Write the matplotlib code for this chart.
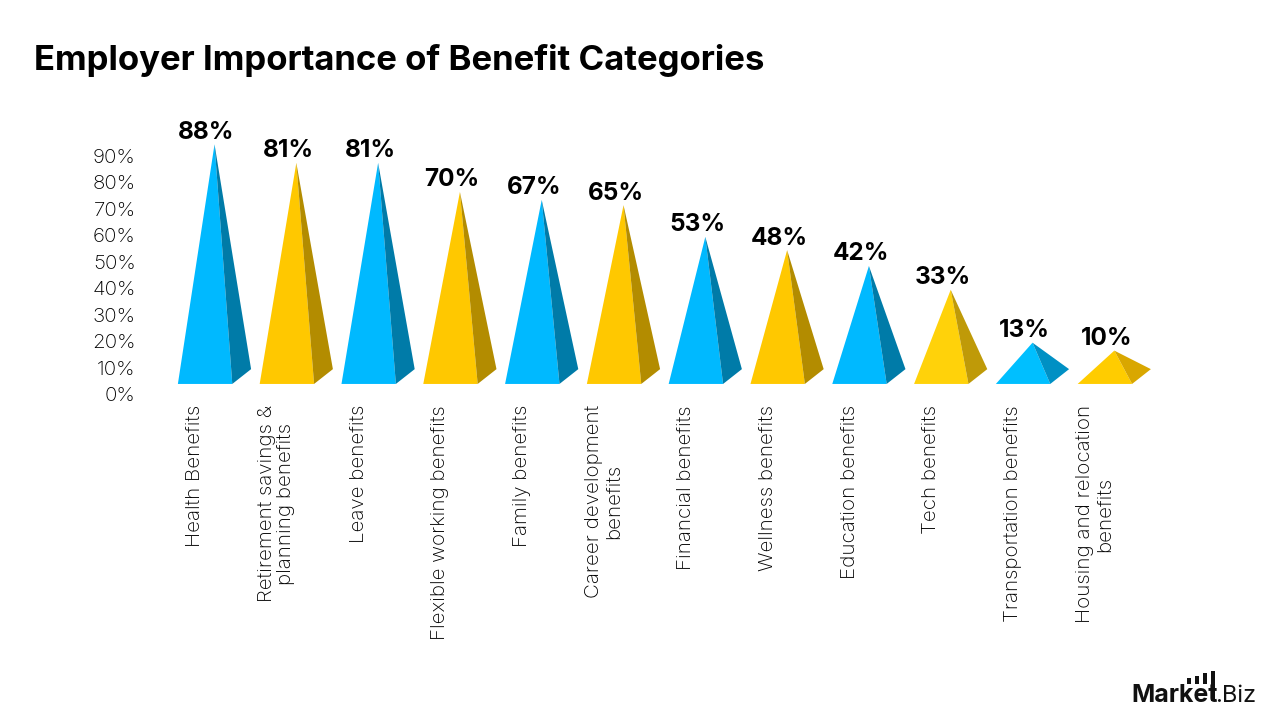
import matplotlib
matplotlib.use("Agg")
import matplotlib.pyplot as plt
from matplotlib.patches import Rectangle

plt.rcParams["font.family"] = ["Inter", "DejaVu Sans"]

categories = ["Health Benefits", "Retirement savings &\nplanning benefits", "Leave benefits",
              "Flexible working benefits", "Family benefits", "Career development\nbenefits",
              "Financial benefits", "Wellness benefits", "Education benefits", "Tech benefits",
              "Transportation benefits", "Housing and relocation\nbenefits"]
values = [88, 81, 81, 70, 67, 65, 53, 48, 42, 33, 13, 10]
front_colors = ["#00B9FF", "#FFC800", "#00B9FF", "#FFC800", "#00B9FF", "#FFC800",
                "#00B9FF", "#FFC800", "#00B9FF", "#FFD20A", "#00BFFF", "#FFCC00"]
side_colors = ["#007BA8", "#B38C00", "#007BA8", "#B38C00", "#007BA8", "#B38C00",
               "#007BA8", "#B38C00", "#007BA8", "#BF9A08", "#0090C4", "#D9A700"]
yticks = [0, 10, 20, 30, 40, 50, 60, 70, 80, 90]

W, H = 1280, 720

# pyramid footprint relative to the category position, 3d look
left, right, back, peak = -0.209, 0.456, 0.686, 0.239
base_y, back_y, floor = 3.8, 9.4, 6.4


def px_rect(x0, y0, x1, y1):
    return [x0 / W, 1 - y1 / H, (x1 - x0) / W, (y1 - y0) / H]


fig = plt.figure(figsize=(12.8, 7.2), dpi=100)
ax = fig.add_axes(px_rect(145.9, 129.5, 1160.2, 394))
ax.set_xlim(-0.6, 11.8)
ax.set_ylim(0, 100)

for i, v in enumerate(values):
    top = v + floor
    ax.fill([i + left, i + right, i + peak], [base_y, base_y, top], color=front_colors[i], lw=0)
    ax.fill([i + right, i + back, i + peak], [base_y, back_y, top], color=side_colors[i], lw=0)
    ax.annotate(f"{v}%", (i + 0.142, top), xytext=(0, 4), textcoords="offset points",
                ha="center", va="baseline", fontsize=17.5, fontweight="bold",
                color="black", annotation_clip=False)

for s in ax.spines.values():
    s.set_visible(False)
ax.set_yticks(yticks)
ax.set_yticklabels([f"{t}%" for t in yticks], fontsize=14.8, color="black", fontweight="light")
ax.set_xticks(range(len(categories)))
ax.set_xticklabels(categories, rotation=90, fontsize=14.8, color="black", fontweight="light",
                   ha="center", va="top", multialignment="center", linespacing=1.1)
ax.tick_params(axis="y", length=0, pad=7.4)
ax.tick_params(axis="x", length=0, pad=8)

fig.text(34 / W, 1 - 70 / H, "Employer Importance of Benefit Categories",
         fontsize=25, fontweight="bold", color="black", ha="left", va="baseline")

# logo in the corner
fig.text(1131 / W, 1 - 702 / H, "Market", fontsize=18, fontweight="bold", color="#111111",
         ha="left", va="baseline")
fig.text(1256 / W, 1 - 702 / H, ".Biz", fontsize=17, color="#111111", ha="right", va="baseline")
for x0, y0, y1 in [(1187, 678, 684), (1195, 676, 684), (1203, 673, 684), (1211, 671, 701)]:
    r = px_rect(x0, y0, x0 + 4, y1)
    fig.add_artist(Rectangle((r[0], r[1]), r[2], r[3], transform=fig.transFigure,
                             color="#111111", lw=0))

fig.savefig("out.png", dpi=100)
